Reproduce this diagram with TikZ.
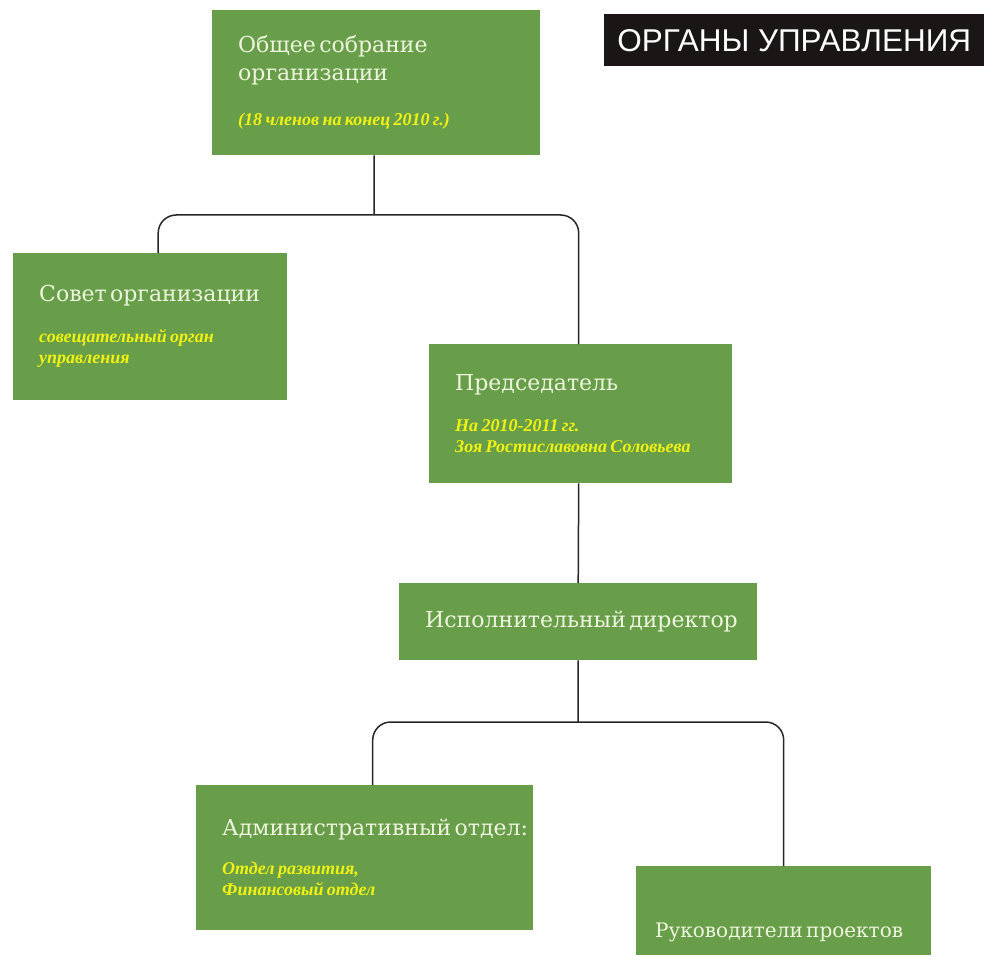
\documentclass[tikz,border=0pt]{standalone}
\usepackage{fontspec}
\setmainfont{DejaVu Serif}
\newfontfamily\capsfont{Liberation Sans}
\newfontfamily\notefont{Liberation Serif}
\usepackage{xcolor}
\definecolor{boxgreen}{RGB}{104,158,73}
\definecolor{headcream}{RGB}{238,245,222}
\definecolor{noteyellow}{RGB}{240,242,20}
\definecolor{bandblack}{RGB}{26,22,22}
\newcommand{\hd}[1]{{\fontsize{22}{28}\selectfont\color{headcream}#1\par}}
\newcommand{\nt}[1]{{\notefont\fontsize{18}{21}\selectfont\bfseries\itshape\color{noteyellow}#1\par}}

\begin{document}
\begin{tikzpicture}[x=1pt, y=-1pt,
    unit/.style={anchor=north west, fill=boxgreen, inner xsep=26pt, inner ysep=0pt, align=left},
    link/.style={draw=black!85, line width=1.5pt, rounded corners=18pt}]
    \useasboundingbox (0,0) rectangle (984,968);

    \node (band) at (604,14) [anchor=north west, fill=bandblack, minimum width=380pt, minimum height=52pt, inner sep=0pt, text=white, font=\capsfont\fontsize{31.5}{32}\selectfont] {ОРГАНЫ УПРАВЛЕНИЯ};

    \node (sobr) at (212,10) [unit, text width=276pt, minimum height=145pt] {\hd{Общее собрание\\организации}\vspace{24pt}\nt{(18 членов на конец 2010~г.)}};
    \node (sovet) at (13,253) [unit, text width=222pt, minimum height=147pt] {\hd{Совет~организации}\vspace{20pt}\nt{совещательный орган\\управления}};
    \node (pred) at (429,344) [unit, text width=251pt, minimum height=139pt] {\hd{Председатель}\vspace{20pt}\nt{На 2010-2011 гг.\\Зоя~Ростиславовна~Соловьева}};
    \node (ispd) at (399,583) [unit, text width=306pt, minimum height=77pt, align=center] {\hd{Исполнительный~директор}};
    \node (adm) at (196,785) [unit, text width=285pt, minimum height=145pt] {\hd{Административный~отдел:}\vspace{18pt}\nt{Отдел развития,\\Финансовый отдел}};
    \node (ruk) at (636,866) [unit, inner xsep=19pt, text width=257pt, text height=71pt, text depth=18pt] {{\fontsize{20}{24}\selectfont\color{headcream}Руководители~проектов\par}};

    \coordinate (fork1) at (374,215);
    \coordinate (fork2) at (578,722);

    \draw[link] ([xshift=-2pt]sobr.south) -- (fork1);
    \draw[link] ([xshift=8pt]sovet.north) |- (fork1) -| ([xshift=-2pt]pred.north);
    \draw[link] ([xshift=-2pt]pred.south) -- (ispd.north);
    \draw[link] (ispd.south) -- (fork2);
    \draw[link] ([xshift=8pt]adm.north) |- (fork2) -| (ruk.north);
\end{tikzpicture}
\end{document}
